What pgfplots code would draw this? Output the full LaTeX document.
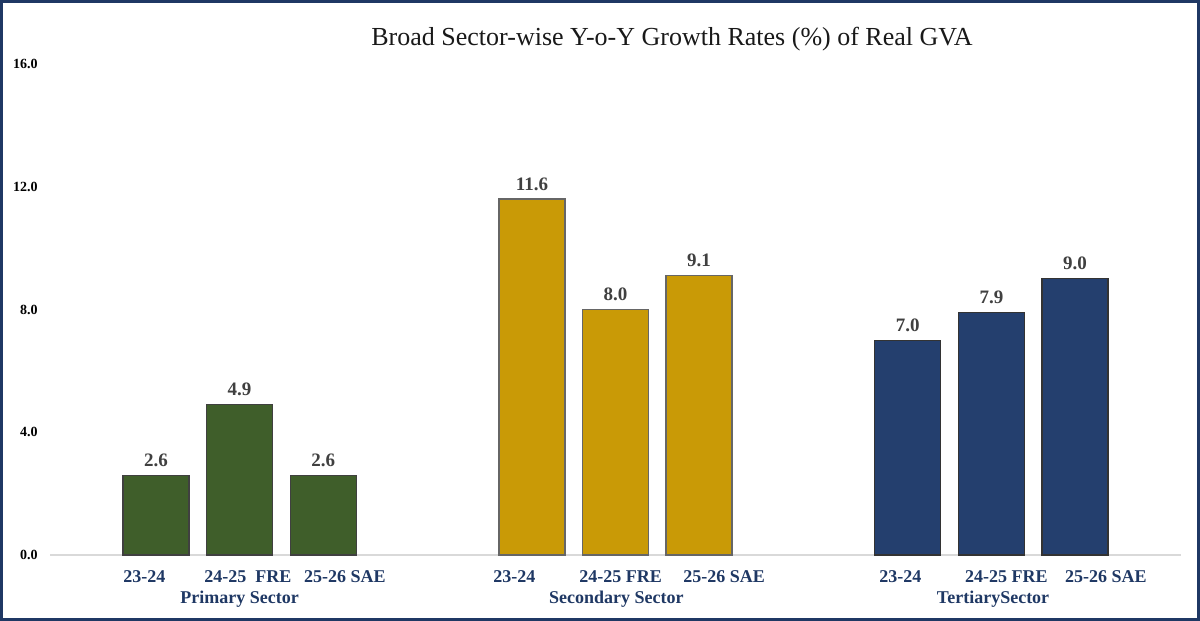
\documentclass[border=0pt]{standalone}
\usepackage{pgfplots}
\pgfplotsset{compat=1.18}
\usepackage{fontspec}
\setmainfont{Liberation Serif}
\definecolor{framec}{HTML}{1F3864}
\definecolor{cgreen}{HTML}{3F5E2A}
\definecolor{cgold}{HTML}{C99A06}
\definecolor{cnavy}{HTML}{243F6E}
\definecolor{lblblue}{HTML}{1F3864}
\definecolor{vgray}{HTML}{404040}
\begin{document}
\begin{tikzpicture}
\draw[framec, line width=1.5pt] (0.75pt,0.75pt) rectangle (599.25pt,309.75pt);
\node[font=\fontsize{13}{15}\selectfont, text=black!90] at (336pt,291pt) {Broad Sector-wise Y-o-Y Growth Rates (\%) of Real GVA};
\begin{axis}[
  at={(25pt,33pt)}, anchor=south west, scale only axis,
  width=565.5pt, height=245.5pt,
  xmin=-1.27, xmax=12.27, ymin=0, ymax=16,
  enlargelimits=false, clip=false,
  axis line style={draw=none},
  major tick length=0pt,
  ybar, bar width=33pt, bar shift=0pt,
  /pgf/number format/assume math mode=true,
  /pgf/number format/.cd, fixed, fixed zerofill, precision=1, /pgfplots/.cd,
  ytick={0,4,8,12,16},
  yticklabel style={font=\fontsize{7}{8}\selectfont\bfseries, text=black, anchor=east, inner sep=0pt, xshift=-6pt},
  xtick={-0.14,1.10,2.26,4.29,5.56,6.80,8.91,10.18,11.37},
  xticklabels={23-24, 24-25\ \ FRE, 25-26 SAE, 23-24, 24-25 FRE, 25-26 SAE, 23-24, 24-25 FRE, 25-26 SAE},
  xticklabel style={font=\fontsize{9}{11}\selectfont\bfseries, text=lblblue, anchor=base, yshift=-14pt},
  extra y ticks={0}, extra y tick labels={},
  extra y tick style={grid=major, grid style={draw=black!15, line width=1pt}},
  nodes near coords,
  nodes near coords style={font=\fontsize{9.5}{11}\selectfont\bfseries, text=vgray, anchor=base, yshift=4.5pt},
]
\addplot[fill=cgreen, draw=black!75, line width=0.6pt] coordinates {(0,2.6) (1,4.9) (2,2.6)};
\addplot[fill=cgold, draw=black!60, line width=0.6pt] coordinates {(4.5,11.6) (5.5,8.0) (6.5,9.1)};
\addplot[fill=cnavy, draw=black!80, line width=0.6pt] coordinates {(9,7.0) (10,7.9) (11,9.0)};
\node[anchor=base, yshift=-24.5pt, font=\fontsize{9}{11}\selectfont\bfseries, text=lblblue] at (axis cs:1,0) {Primary Sector};
\node[anchor=base, yshift=-24.5pt, font=\fontsize{9}{11}\selectfont\bfseries, text=lblblue] at (axis cs:5.51,0) {Secondary Sector};
\node[anchor=base, yshift=-24.5pt, font=\fontsize{9}{11}\selectfont\bfseries, text=lblblue] at (axis cs:10.02,0) {TertiarySector};
\end{axis}
\end{tikzpicture}
\end{document}
